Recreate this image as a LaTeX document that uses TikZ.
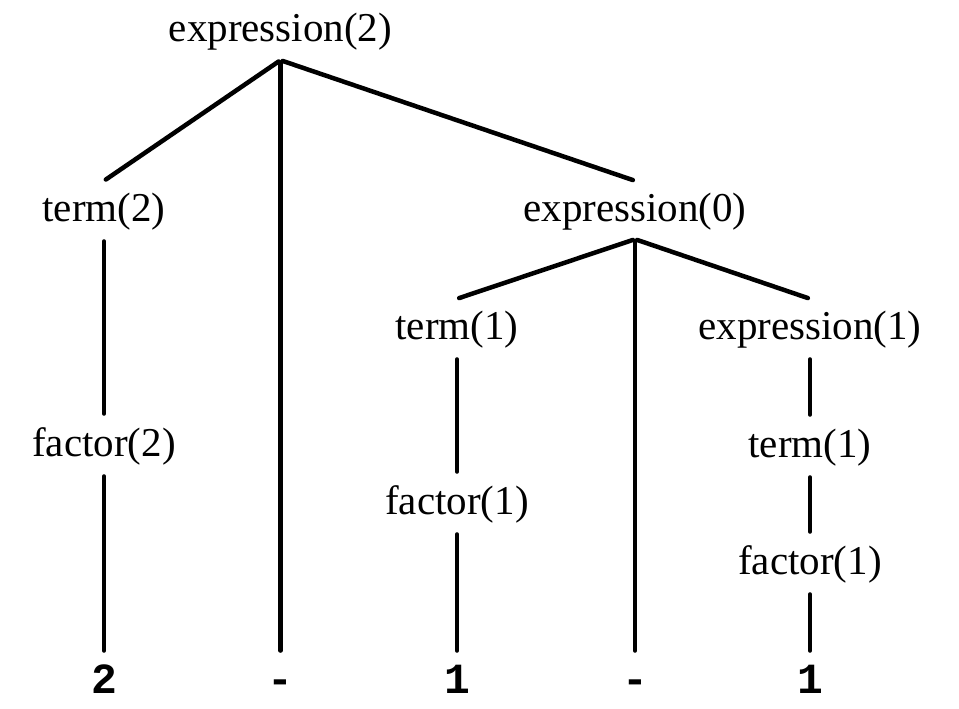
\documentclass[tikz,border=0pt]{standalone}
\usepackage{fontspec}
\setmainfont{Liberation Serif}
\setmonofont{Liberation Mono}
\usetikzlibrary{positioning}

\begin{document}
\begin{tikzpicture}
	[x=1pt, y=-1pt, inner sep=0pt,
	rule/.style	= {anchor=base, text height=40pt, text depth=18pt, font=\fontsize{41}{41}\selectfont},
	token/.style	= {anchor=base, text height=40pt, text depth=0pt, font=\ttfamily\bfseries\fontsize{43}{43}\selectfont},
	branch/.style	= {line width=4.5pt, line cap=round, shorten <=2.25pt, shorten >=2.25pt}]

	\useasboundingbox (0,0) rectangle (959,709);

	\node at (280.5, 42)	[rule]	(e2)	{expression(2)};
	\node at (104, 221)	[rule]	(t2)	{term(2)};
	\node at (635, 221)	[rule]	(e0)	{expression(0)};
	\node at (457, 339)	[rule]	(t1a)	{term(1)};
	\node at (810, 339)	[rule]	(e1)	{expression(1)};
	\node at (104, 456)	[rule]	(f2)	{factor(2)};
	\node at (810, 457)	[rule]	(t1b)	{term(1)};
	\node at (457, 514)	[rule]	(f1a)	{factor(1)};
	\node at (810, 574)	[rule]	(f1b)	{factor(1)};

	% leaves
	\node at (104, 693)	[token]	(n2)	{2};
	\node at (280.5, 693)	[token]	(m1)	{-};
	\node at (457, 693)	[token]	(n1a)	{1};
	\node at (635, 693)	[token]	(m2)	{-};
	\node at (810, 693)	[token]	(n1b)	{1};

	\draw [branch] (e2.south) -- (t2.north);
	\draw [branch] (e2.south) -- (m1.north);
	\draw [branch] (e2.south) -- (e0.north);

	\draw [branch] (t2.south) -- (f2.north);
	\draw [branch] (f2.south) -- (n2.north);

	\draw [branch] (e0.south) -- (t1a.north);
	\draw [branch] (e0.south) -- (m2.north);
	\draw [branch] (e0.south) -- (e1.north);

	\draw [branch] (t1a.south) -- (f1a.north);
	\draw [branch] (f1a.south) -- (n1a.north);

	\draw [branch] (e1.south) -- (t1b.north);
	\draw [branch] (t1b.south) -- (f1b.north);
	\draw [branch] (f1b.south) -- (n1b.north);
\end{tikzpicture}
\end{document}
